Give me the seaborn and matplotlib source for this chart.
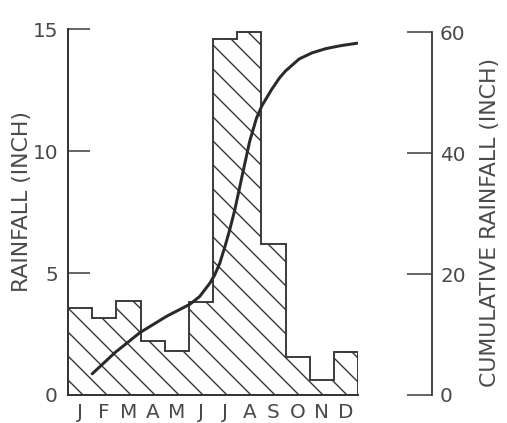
import numpy as np
import pandas as pd
import matplotlib
matplotlib.use("Agg")
import matplotlib.pyplot as plt
import seaborn as sns

# ---- data ----
months = ["J", "F", "M", "A", "M", "J", "J", "A", "S", "O", "N", "D"]
rainfall = [3.55, 3.15, 3.85, 2.2, 1.8, 3.8, 14.6, 14.9, 6.2, 1.55, 0.6, 1.75]

# cumulative curve (x in months from start of year)
cum_month = [1.0, 1.94, 2.97, 4.07, 5.04, 5.45, 5.87, 6.07, 6.28, 6.49, 6.69,
             6.90, 7.08, 7.24, 7.52, 7.80, 8.03, 8.42, 8.76, 9.0, 9.57, 10.1,
             10.67, 11.3, 11.97]
cum_rain = [3.5, 7.0, 10.3, 13.0, 15.0, 16.3, 18.5, 19.85, 21.8, 24.5, 27.3,
            30.6, 33.9, 36.9, 42.0, 45.8, 47.9, 50.5, 52.5, 53.6, 55.6, 56.6,
            57.3, 57.8, 58.2]

left_ticks = [0, 5, 10, 15]
right_ticks = [0, 20, 40, 60]

# ---- style ----
sns.set_style("white")
plt.rcParams["font.family"] = ["DejaVu Sans"]
INK = "#363636"
TXT = "#4a4a4a"
plt.rcParams["hatch.color"] = INK
plt.rcParams["hatch.linewidth"] = 1.4

W, H = 507, 423
DPI = 72
fig = plt.figure(figsize=(W / DPI, H / DPI), dpi=DPI)
fig.patch.set_facecolor("white")

x0, x1 = 68, 358
y0, y1 = 395, 29.3
ax = fig.add_axes([x0 / W, (H - y0) / H, (x1 - x0) / W, (y0 - y1) / H])
ax.set_facecolor("none")

df = pd.DataFrame({"idx": np.arange(len(months)), "rain": rainfall})

# hatched bars (no edges) + step outline
sns.barplot(data=df, x="idx", y="rain", width=1.0, color="white",
            edgecolor=INK, linewidth=0, hatch="\\", errorbar=None,
            saturation=1, ax=ax)
edges = np.arange(len(months) + 1) - 0.5
ax.stairs(rainfall, edges, baseline=0, color=INK, linewidth=1.9, zorder=3)

ax.set_xlim(-0.5, len(months) - 0.5)
ax.set_ylim(0, 15)
ax.set_xlabel("")
ax.set_ylabel("RAINFALL (INCH)", fontsize=22, color=TXT, labelpad=0)
ax.yaxis.set_label_coords((32 - x0) / (x1 - x0), (y0 - 201) / (y0 - y1))

ax.set_xticks(np.arange(len(months)), months)
ax.set_xticks(edges[1:-1], minor=True)
ax.tick_params(axis="x", which="major", length=0, pad=8, labelsize=20,
               labelcolor=TXT)
ax.tick_params(axis="x", which="minor", direction="in", length=9, width=1.4,
               color=INK, bottom=True)
ax.set_yticks(left_ticks)
ax.tick_params(axis="y", direction="in", length=22, width=1.5, color=INK,
               pad=10, labelsize=20, labelcolor=TXT, left=True)

for s in ["top", "right"]:
    ax.spines[s].set_visible(False)
for s in ["left", "bottom"]:
    ax.spines[s].set_color(INK)
    ax.spines[s].set_linewidth(2.0)
ax.spines["left"].set_bounds(0, 15)

# ---- cumulative axis ----
ax2 = ax.twinx()
ax2.set_facecolor("none")
sns.lineplot(x=np.array(cum_month) - 0.5, y=cum_rain, ax=ax2, color="#2a2a2a",
             linewidth=3.0, sort=False, zorder=5)
ax2.set_ylim(0, 60 * (y0 - y1) / (y0 - 32.3))
ax2.set_yticks(right_ticks)
for s in ["top", "left", "bottom"]:
    ax2.spines[s].set_visible(False)
ax2.spines["right"].set_position(("axes", (432 - x0) / (x1 - x0)))
ax2.spines["right"].set_bounds(0, 60)
ax2.spines["right"].set_color(INK)
ax2.spines["right"].set_linewidth(1.8)
ax2.tick_params(axis="y", direction="in", length=25, width=1.5, color=INK,
                pad=8, labelsize=20, labelcolor=TXT, right=True)
ax2.set_ylabel("CUMULATIVE RAINFALL (INCH)", fontsize=22, color=TXT)
ax2.yaxis.set_label_coords((480 - x0) / (x1 - x0), (y0 - 222) / (y0 - y1))

fig.savefig("out.png", dpi=DPI, facecolor="white")
